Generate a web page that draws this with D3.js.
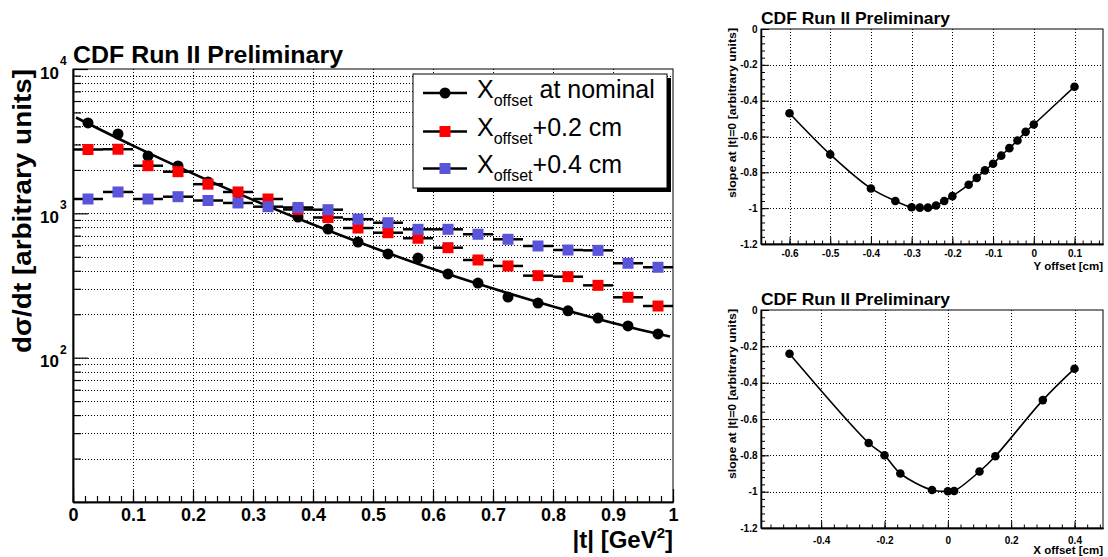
<!DOCTYPE html>
<html>
<head>
<meta charset="utf-8">
<script src="https://cdn.jsdelivr.net/npm/d3@7"></script>
<style>
  body { margin: 0; background: #fff; }
  svg { display: block; font-family: "Liberation Sans", Arial, Helvetica, sans-serif; }
</style>
</head>
<body>
<svg id="chart" width="1108" height="557"></svg>
<script>
// ---- main panel: d(sigma)/dt vs |t|, three X offsets
const tBins = [0.025, 0.075, 0.125, 0.175, 0.225, 0.275, 0.325, 0.375, 0.425, 0.475,
               0.525, 0.575, 0.625, 0.675, 0.725, 0.775, 0.825, 0.875, 0.925, 0.975];
const binHalf = 0.025;
const nominal = [4227, 3545, 2496, 2128, 1649, 1383, 1142, 943, 779, 633,
                 523, 490, 380, 329, 263, 239, 211, 188, 166, 146];
const plus02 = [2769, 2780, 2138, 1943, 1592, 1406, 1257, 1063, 936, 791,
                734, 672, 578, 475, 432, 370, 364, 317, 262, 228];
const plus04 = [1257, 1406, 1257, 1304, 1227, 1180, 1112, 1098, 1060, 911,
                861, 775, 775, 716, 661, 594, 557, 554, 451, 423];
// fit curve through the nominal points
const fitT = [0.005, 0.1, 0.2, 0.3, 0.4, 0.5, 0.6, 0.7, 0.8, 0.9, 0.995];
const fitVal = [4613, 2942, 1885, 1239, 836, 579, 411, 301, 226, 174, 140];
const tTicks = [0, 0.1, 0.2, 0.3, 0.4, 0.5, 0.6, 0.7, 0.8, 0.9, 1];
const decadeTicks = [10, 100, 1000, 10000];
const legendLabels = ["at nominal", "+0.2 cm", "+0.4 cm"];

// ---- right panels: slope at |t|=0 vs beam offset
const yOffset = [-0.6, -0.5, -0.4, -0.34, -0.3, -0.28, -0.26, -0.24, -0.22, -0.2,
                 -0.16, -0.14, -0.12, -0.1, -0.08, -0.06, -0.04, -0.02, 0, 0.1];
const ySlope = [-0.47, -0.70, -0.89, -0.96, -0.995, -0.997, -0.997, -0.985, -0.96, -0.933,
                -0.869, -0.831, -0.789, -0.752, -0.707, -0.665, -0.622, -0.574, -0.533, -0.322];
const xOffset = [-0.5, -0.25, -0.2, -0.15, -0.05, 0, 0.02, 0.1, 0.15, 0.3, 0.4];
const xSlope = [-0.241, -0.732, -0.80, -0.90, -0.991, -0.998, -0.996, -0.889, -0.805, -0.496, -0.323];
const slopeTicks = [-1.2, -1, -0.8, -0.6, -0.4, -0.2, 0];
const slopeLabels = ["-1.2", "-1", "-0.8", "-0.6", "-0.4", "-0.2", "0"];
const yOffTicks = [-0.6, -0.5, -0.4, -0.3, -0.2, -0.1, 0, 0.1];
const xOffTicks = [-0.4, -0.2, 0, 0.2, 0.4];

const RED = "#ff0000", BLUE = "#5954d9";
const svg = d3.select("#chart");
svg.append("rect").attr("width", 1108).attr("height", 557).attr("fill", "#fff");

// minor tick positions aligned on zero
function minorTicks(domain, step) {
  const lo = Math.ceil(domain[0] / step - 1e-9), hi = Math.floor(domain[1] / step + 1e-9);
  return d3.range(lo, hi + 1).map(k => +(k * step).toFixed(4));
}

// ================= main panel =================
const M = { left: 73, right: 673, top: 69, bottom: 502 };
const x = d3.scaleLinear().domain([0, 1]).range([M.left, M.right]);
const y = d3.scaleLog().domain([10, 10000]).range([M.bottom, M.top]);
const main = svg.append("g");

// dotted grid
main.append("g").selectAll("line")
  .data(y.ticks().filter(v => v > 10 && v < 10000))
  .join("line")
  .attr("x1", M.left).attr("x2", M.right)
  .attr("y1", d => Math.round(y(d)) + 0.5).attr("y2", d => Math.round(y(d)) + 0.5)
  .attr("stroke", "#000").attr("stroke-dasharray", "1,2");
main.append("g").selectAll("line")
  .data(tTicks.filter(v => v > 0 && v < 1))
  .join("line")
  .attr("x1", d => Math.round(x(d)) + 0.5).attr("x2", d => Math.round(x(d)) + 0.5)
  .attr("y1", M.top).attr("y2", M.bottom)
  .attr("stroke", "#000").attr("stroke-dasharray", "1,2");

// axes
const xMinor = main.append("g").attr("transform", `translate(0,${M.bottom})`)
  .call(d3.axisBottom(x).tickValues(minorTicks([0, 1], 0.02)).tickSizeInner(-6).tickSizeOuter(0).tickFormat(""));
const xMajor = main.append("g").attr("transform", `translate(0,${M.bottom})`)
  .call(d3.axisBottom(x).tickValues(tTicks).tickSizeInner(-13).tickSizeOuter(0)
        .tickPadding(6).tickFormat(d3.format("~g")));
xMajor.selectAll("text").attr("font-size", 18).attr("font-weight", "bold").attr("fill", "#000");
const yMinor = main.append("g").attr("transform", `translate(${M.left},0)`)
  .call(d3.axisLeft(y).tickValues(y.ticks().filter(v => !decadeTicks.includes(v)))
        .tickSizeInner(-8).tickSizeOuter(0).tickFormat(""));
const yMajor = main.append("g").attr("transform", `translate(${M.left},0)`)
  .call(d3.axisLeft(y).tickValues(decadeTicks).tickSizeInner(-15).tickSizeOuter(0).tickFormat(""));
[xMinor, xMajor, yMinor, yMajor].forEach(a => {
  a.select(".domain").attr("stroke-width", 1.5);
  a.selectAll(".tick line").attr("stroke-width", 1.2);
});
// y labels 10^n
decadeTicks.filter(v => v > 10).forEach(v => {
  main.append("text").attr("x", 59).attr("y", y(v) + 9.5).attr("text-anchor", "end")
    .attr("font-size", 17).attr("font-weight", "bold").text("10");
  main.append("text").attr("x", 60).attr("y", y(v) - 4).attr("font-size", 12)
    .attr("font-weight", "bold").text(Math.round(Math.log10(v)));
});

// frame
main.append("rect").attr("x", M.left).attr("y", M.top)
  .attr("width", M.right - M.left).attr("height", M.bottom - M.top)
  .attr("fill", "none").attr("stroke", "#000").attr("stroke-width", 1);

// fit line
main.append("path")
  .datum(fitT.map((t, i) => [t, fitVal[i]]))
  .attr("fill", "none").attr("stroke", "#000").attr("stroke-width", 2.6)
  .attr("d", d3.line().x(d => x(d[0])).y(d => y(d[1])).curve(d3.curveNatural));

// nominal points
main.append("g").selectAll("circle")
  .data(tBins.map((t, i) => [t, nominal[i]]))
  .join("circle")
  .attr("cx", d => x(d[0])).attr("cy", d => y(d[1])).attr("r", 5.5).attr("fill", "#000");

// shifted series: horizontal bin bars + squares
function squareSeries(vals, color) {
  const g = main.append("g");
  const pts = tBins.map((t, i) => [t, vals[i]]);
  g.selectAll("line").data(pts).join("line")
    .attr("x1", d => x(d[0] - binHalf)).attr("x2", d => x(d[0] + binHalf))
    .attr("y1", d => y(d[1])).attr("y2", d => y(d[1]))
    .attr("stroke", "#000").attr("stroke-width", 2.5);
  g.selectAll("rect").data(pts).join("rect")
    .attr("x", d => x(d[0]) - 5.5).attr("y", d => y(d[1]) - 5.5)
    .attr("width", 11).attr("height", 11).attr("fill", color);
}
squareSeries(plus02, RED);
squareSeries(plus04, BLUE);

// titles
main.append("text").attr("x", 73).attr("y", 62.5).attr("font-size", 23)
  .attr("font-weight", "bold").attr("textLength", 270).attr("lengthAdjust", "spacingAndGlyphs")
  .text("CDF Run II Preliminary");
main.append("text").attr("transform", "translate(31,69) rotate(-90)")
  .attr("text-anchor", "end").attr("font-size", 26).attr("font-weight", "bold")
  .attr("textLength", 284).attr("lengthAdjust", "spacingAndGlyphs")
  .text("dσ/dt [arbitrary units]");
const xt = main.append("text").attr("x", 673).attr("y", 548).attr("text-anchor", "end")
  .attr("font-size", 24).attr("font-weight", "bold");
xt.append("tspan").text("|t| [GeV");
xt.append("tspan").attr("dy", -10).attr("font-size", 15).text("2");
xt.append("tspan").attr("dy", 10).text("]");

// legend
const L = { x: 413, y: 74, w: 254, h: 114 };
main.append("rect").attr("x", L.x + 4).attr("y", L.y + 4).attr("width", L.w).attr("height", L.h).attr("fill", "#000");
main.append("rect").attr("x", L.x).attr("y", L.y).attr("width", L.w).attr("height", L.h)
  .attr("fill", "#fff").attr("stroke", "#000").attr("stroke-width", 1);
const rowY = [93, 131.5, 168.5];
legendLabels.forEach((lab, i) => {
  const cy = rowY[i];
  main.append("line").attr("x1", 423).attr("x2", 467).attr("y1", cy).attr("y2", cy)
    .attr("stroke", "#000").attr("stroke-width", 2.5);
  if (i === 0) {
    main.append("circle").attr("cx", 445).attr("cy", cy).attr("r", 5.5).attr("fill", "#000");
  } else {
    main.append("rect").attr("x", 439.5).attr("y", cy - 5.5).attr("width", 11).attr("height", 11)
      .attr("fill", i === 1 ? RED : BLUE);
  }
  const t = main.append("text").attr("x", 477).attr("y", cy + 4.5).attr("font-size", 25);
  t.append("tspan").text("X");
  t.append("tspan").attr("dy", 8).attr("font-size", 16).text("offset");
  t.append("tspan").attr("dy", -8).text((i === 0 ? "\u00a0" : "") + lab);
});

// ================= right panels =================
function slopePanel(cfg) {
  const g = svg.append("g");
  const sx = d3.scaleLinear().domain(cfg.xDomain).range([cfg.left, cfg.right]);
  const sy = d3.scaleLinear().domain([-1.2, 0]).range([cfg.bottom, cfg.top]);
  const fmt = d => String(+d.toFixed(2));

  g.append("g").selectAll("line").data(cfg.xTicks).join("line")
    .attr("x1", d => Math.round(sx(d)) + 0.5).attr("x2", d => Math.round(sx(d)) + 0.5)
    .attr("y1", cfg.top).attr("y2", cfg.bottom)
    .attr("stroke", "#000").attr("stroke-dasharray", "1,2");
  g.append("g").selectAll("line").data(slopeTicks.filter(v => v > -1.2 && v < 0)).join("line")
    .attr("x1", cfg.left).attr("x2", cfg.right)
    .attr("y1", d => Math.round(sy(d)) + 0.5).attr("y2", d => Math.round(sy(d)) + 0.5)
    .attr("stroke", "#000").attr("stroke-dasharray", "1,2");

  const axes = [];
  axes.push(g.append("g").attr("transform", `translate(0,${cfg.bottom})`)
    .call(d3.axisBottom(sx).tickValues(minorTicks(cfg.xDomain, cfg.xMinorStep))
          .tickSizeInner(-3.5).tickSizeOuter(0).tickFormat("")));
  const xa = g.append("g").attr("transform", `translate(0,${cfg.bottom})`)
    .call(d3.axisBottom(sx).tickValues(cfg.xTicks).tickSizeInner(-7).tickSizeOuter(0).tickFormat(fmt));
  axes.push(xa);
  axes.push(g.append("g").attr("transform", `translate(${cfg.left},0)`)
    .call(d3.axisLeft(sy).tickValues(minorTicks([-1.2, 0], 0.04))
          .tickSizeInner(-4).tickSizeOuter(0).tickFormat("")));
  const ya = g.append("g").attr("transform", `translate(${cfg.left},0)`)
    .call(d3.axisLeft(sy).tickValues(slopeTicks).tickSizeInner(-8).tickSizeOuter(0).tickFormat(""));
  axes.push(ya);
  axes.forEach(a => { a.select(".domain").attr("stroke-width", 1.3); });
  xa.selectAll("text").attr("font-size", 10).attr("font-weight", "bold").attr("fill", "#000")
    .attr("y", cfg.labelDy).attr("dy", 0);

  // y tick labels
  g.append("g").selectAll("text").data(slopeTicks).join("text")
    .attr("x", cfg.left - 3.5).attr("y", d => sy(d) + 3.6)
    .attr("text-anchor", "end").attr("font-size", 10).attr("font-weight", "bold")
    .text((d, i) => slopeLabels[i]);

  g.append("rect").attr("x", cfg.left).attr("y", cfg.top)
    .attr("width", cfg.right - cfg.left).attr("height", cfg.bottom - cfg.top)
    .attr("fill", "none").attr("stroke", "#000").attr("stroke-width", 1);

  const pts = cfg.xs.map((v, i) => [v, cfg.ys[i]]);
  g.append("path").datum(pts)
    .attr("fill", "none").attr("stroke", "#000").attr("stroke-width", 1.6)
    .attr("d", d3.line().x(d => sx(d[0])).y(d => sy(d[1])).curve(d3.curveCatmullRom.alpha(0.5)));
  g.append("g").selectAll("circle").data(pts).join("circle")
    .attr("cx", d => sx(d[0])).attr("cy", d => sy(d[1])).attr("r", 4.3).attr("fill", "#000");

  g.append("text").attr("x", cfg.left).attr("y", cfg.top - 5.5).attr("font-size", 17)
    .attr("font-weight", "bold").attr("textLength", 189).attr("lengthAdjust", "spacingAndGlyphs")
    .text("CDF Run II Preliminary");
  g.append("text").attr("transform", `translate(735.5,${cfg.top - 1}) rotate(-90)`)
    .attr("text-anchor", "end").attr("font-size", 11.5).attr("font-weight", "bold")
    .attr("textLength", 170).attr("lengthAdjust", "spacingAndGlyphs")
    .text("slope at |t|=0 [arbitrary units]");
  g.append("text").attr("x", cfg.right).attr("y", cfg.bottom + cfg.titleDy).attr("text-anchor", "end")
    .attr("font-size", 11.5).attr("font-weight", "bold").text(cfg.xTitle);
}

slopePanel({ left: 761, right: 1103, top: 29, bottom: 244, xDomain: [-0.67, 0.17],
  xTicks: yOffTicks, xMinorStep: 0.02, labelDy: 12.5, titleDy: 26,
  xs: yOffset, ys: ySlope, xTitle: "Y offset [cm]" });
slopePanel({ left: 761, right: 1103, top: 310, bottom: 528, xDomain: [-0.59, 0.49],
  xTicks: xOffTicks, xMinorStep: 0.04, labelDy: 15.5, titleDy: 26,
  xs: xOffset, ys: xSlope, xTitle: "X offset [cm]" });
</script>
</body>
</html>
